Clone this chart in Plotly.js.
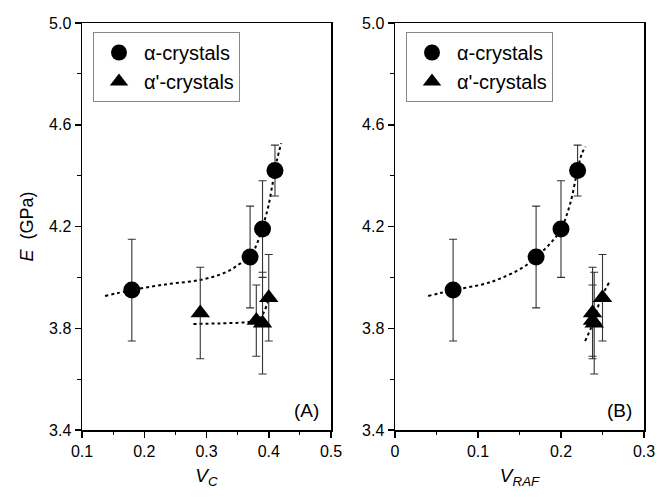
<!DOCTYPE html>
<html>
<head>
<meta charset="utf-8">
<script src="https://cdn.plot.ly/plotly-3.0.1.min.js"></script>
<style>html,body{margin:0;padding:0;background:#fff;}#chart{width:657px;height:497px;}</style>
</head>
<body>
<div id="chart"></div>
<script>
// Panel A: E vs Vc
const vcAlpha = [0.18, 0.37, 0.39, 0.41];
const eAlphaA = [3.95, 4.08, 4.19, 4.42];
const errAlphaA = [0.20, 0.20, 0.19, 0.10];
const vcAlphaP = [0.29, 0.38, 0.39, 0.40];
const eAlphaPA = [3.86, 3.83, 3.82, 3.92];
const errAlphaPA = [0.18, 0.14, 0.20, 0.17];
// Panel B: E vs VRAF
const vrafAlpha = [0.07, 0.17, 0.20, 0.22];
const eAlphaB = [3.95, 4.08, 4.19, 4.42];
const errAlphaB = [0.20, 0.20, 0.19, 0.10];
const vrafAlphaP = [0.238, 0.238, 0.240, 0.250];
const eAlphaPB = [3.86, 3.83, 3.82, 3.92];
const errAlphaPB = [0.18, 0.14, 0.20, 0.17];
// Fit curves
const fitAx = [0.137, 0.18, 0.236, 0.29, 0.332, 0.354, 0.37, 0.381, 0.389, 0.399, 0.407, 0.413, 0.42];
const fitAy = [3.927, 3.95, 3.973, 3.99, 4.021, 4.054, 4.08, 4.132, 4.19, 4.276, 4.38, 4.459, 4.527];
const fitApx = [0.279, 0.32, 0.36, 0.375, 0.385, 0.392, 0.398, 0.402];
const fitApy = [3.817, 3.819, 3.823, 3.828, 3.838, 3.862, 3.9, 3.93];
const fitBx = [0.040, 0.07, 0.106, 0.1265, 0.1546, 0.17, 0.1867, 0.20, 0.211, 0.219, 0.225, 0.2297];
const fitBy = [3.927, 3.95, 3.973, 3.995, 4.04, 4.08, 4.132, 4.19, 4.289, 4.407, 4.485, 4.514];
const fitBpx = [0.229, 0.236, 0.243, 0.25, 0.258];
const fitBpy = [3.75, 3.80, 3.87, 3.93, 3.98];

const errStyle = (arr) => ({type:'data', array:arr, visible:true, color:'#333', thickness:1.1, width:4});
const fitLine = {color:'#000', width:2, dash:'dot', shape:'spline'};

const traces = [
  {x:fitAx, y:fitAy, xaxis:'x', yaxis:'y', mode:'lines', line:fitLine, showlegend:false, hoverinfo:'skip'},
  {x:fitApx, y:fitApy, xaxis:'x', yaxis:'y', mode:'lines', line:fitLine, showlegend:false, hoverinfo:'skip'},
  {x:vcAlpha, y:eAlphaA, error_y:errStyle(errAlphaA), xaxis:'x', yaxis:'y', mode:'markers', name:'α-crystals',
   marker:{symbol:'circle', size:17, color:'#000'}, legend:'legend'},
  {x:vcAlphaP, y:eAlphaPA, error_y:errStyle(errAlphaPA), xaxis:'x', yaxis:'y', mode:'markers', name:"α'-crystals",
   marker:{symbol:'triangle-up', size:17, color:'#000'}, legend:'legend'},
  {x:fitBx, y:fitBy, xaxis:'x2', yaxis:'y2', mode:'lines', line:fitLine, showlegend:false, hoverinfo:'skip'},
  {x:fitBpx, y:fitBpy, xaxis:'x2', yaxis:'y2', mode:'lines', line:fitLine, showlegend:false, hoverinfo:'skip'},
  {x:vrafAlpha, y:eAlphaB, error_y:errStyle(errAlphaB), xaxis:'x2', yaxis:'y2', mode:'markers', name:'α-crystals',
   marker:{symbol:'circle', size:17, color:'#000'}, legend:'legend2'},
  {x:vrafAlphaP, y:eAlphaPB, error_y:errStyle(errAlphaPB), xaxis:'x2', yaxis:'y2', mode:'markers', name:"α'-crystals",
   marker:{symbol:'triangle-up', size:17, color:'#000'}, legend:'legend2'}
];

const font = {family:'"Liberation Sans", Arial, sans-serif', color:'#000'};
const axisCommon = {
  showline:true, mirror:true, linecolor:'#000', linewidth:1.5,
  ticks:'outside', ticklen:6, tickwidth:1.5, tickcolor:'#000',
  showgrid:false, zeroline:false,
  tickfont:{family:font.family, size:16, color:'#000'}
};
const legendCommon = {
  bordercolor:'#888', borderwidth:1, bgcolor:'#fff',
  font:{family:font.family, size:20, color:'#000'},
  xanchor:'left', yanchor:'top', tracegroupgap:0, itemsizing:'trace', itemwidth:40
};

const layout = {
  width:657, height:497,
  margin:{l:0, r:0, t:0, b:0},
  paper_bgcolor:'#fff', plot_bgcolor:'#fff',
  font:font,
  xaxis:Object.assign({}, axisCommon, {
    domain:[82/657, 331/657], range:[0.1, 0.5], dtick:0.1, tick0:0, anchor:'y',
    minor:{dtick:0.05, ticks:'outside', ticklen:3.5, tickwidth:1.2, tickcolor:'#000'},
    title:{text:'<i>V</i><sub><i>C</i></sub>', font:{family:font.family, size:19, color:'#000'}, standoff:10}
  }),
  yaxis:Object.assign({}, axisCommon, {
    domain:[67/497, 474/497], range:[3.4, 5.0], dtick:0.4, tick0:3.4, tickformat:'.1f', anchor:'x',
    minor:{dtick:0.2, ticks:'outside', ticklen:3.5, tickwidth:1.2, tickcolor:'#000'},
    title:{text:'<i>E</i>  (GPa)', font:{family:font.family, size:18, color:'#000'}, standoff:10}
  }),
  xaxis2:Object.assign({}, axisCommon, {
    domain:[395/657, 644/657], range:[0, 0.3], dtick:0.1, tick0:0, anchor:'y2',
    minor:{dtick:0.05, ticks:'outside', ticklen:3.5, tickwidth:1.2, tickcolor:'#000'},
    title:{text:'<i>V</i><sub><i>RAF</i></sub>', font:{family:font.family, size:19, color:'#000'}, standoff:10}
  }),
  yaxis2:Object.assign({}, axisCommon, {
    domain:[67/497, 474/497], range:[3.4, 5.0], dtick:0.4, tick0:3.4, tickformat:'.1f', anchor:'x2',
    minor:{dtick:0.2, ticks:'outside', ticklen:3.5, tickwidth:1.2, tickcolor:'#000'}
  }),
  legend:Object.assign({}, legendCommon, {x:93/657, y:1-32/497}),
  legend2:Object.assign({}, legendCommon, {x:406/657, y:1-32/497}),
  annotations:[
    {text:'(A)', xref:'x', yref:'y', x:0.46, y:3.478, showarrow:false, font:{family:font.family, size:19, color:'#000'}},
    {text:'(B)', xref:'x2', yref:'y2', x:0.2705, y:3.478, showarrow:false, font:{family:font.family, size:19, color:'#000'}}
  ],
  showlegend:true
};

Plotly.newPlot('chart', traces, layout, {displayModeBar:false, staticPlot:true});
</script>
</body>
</html>
